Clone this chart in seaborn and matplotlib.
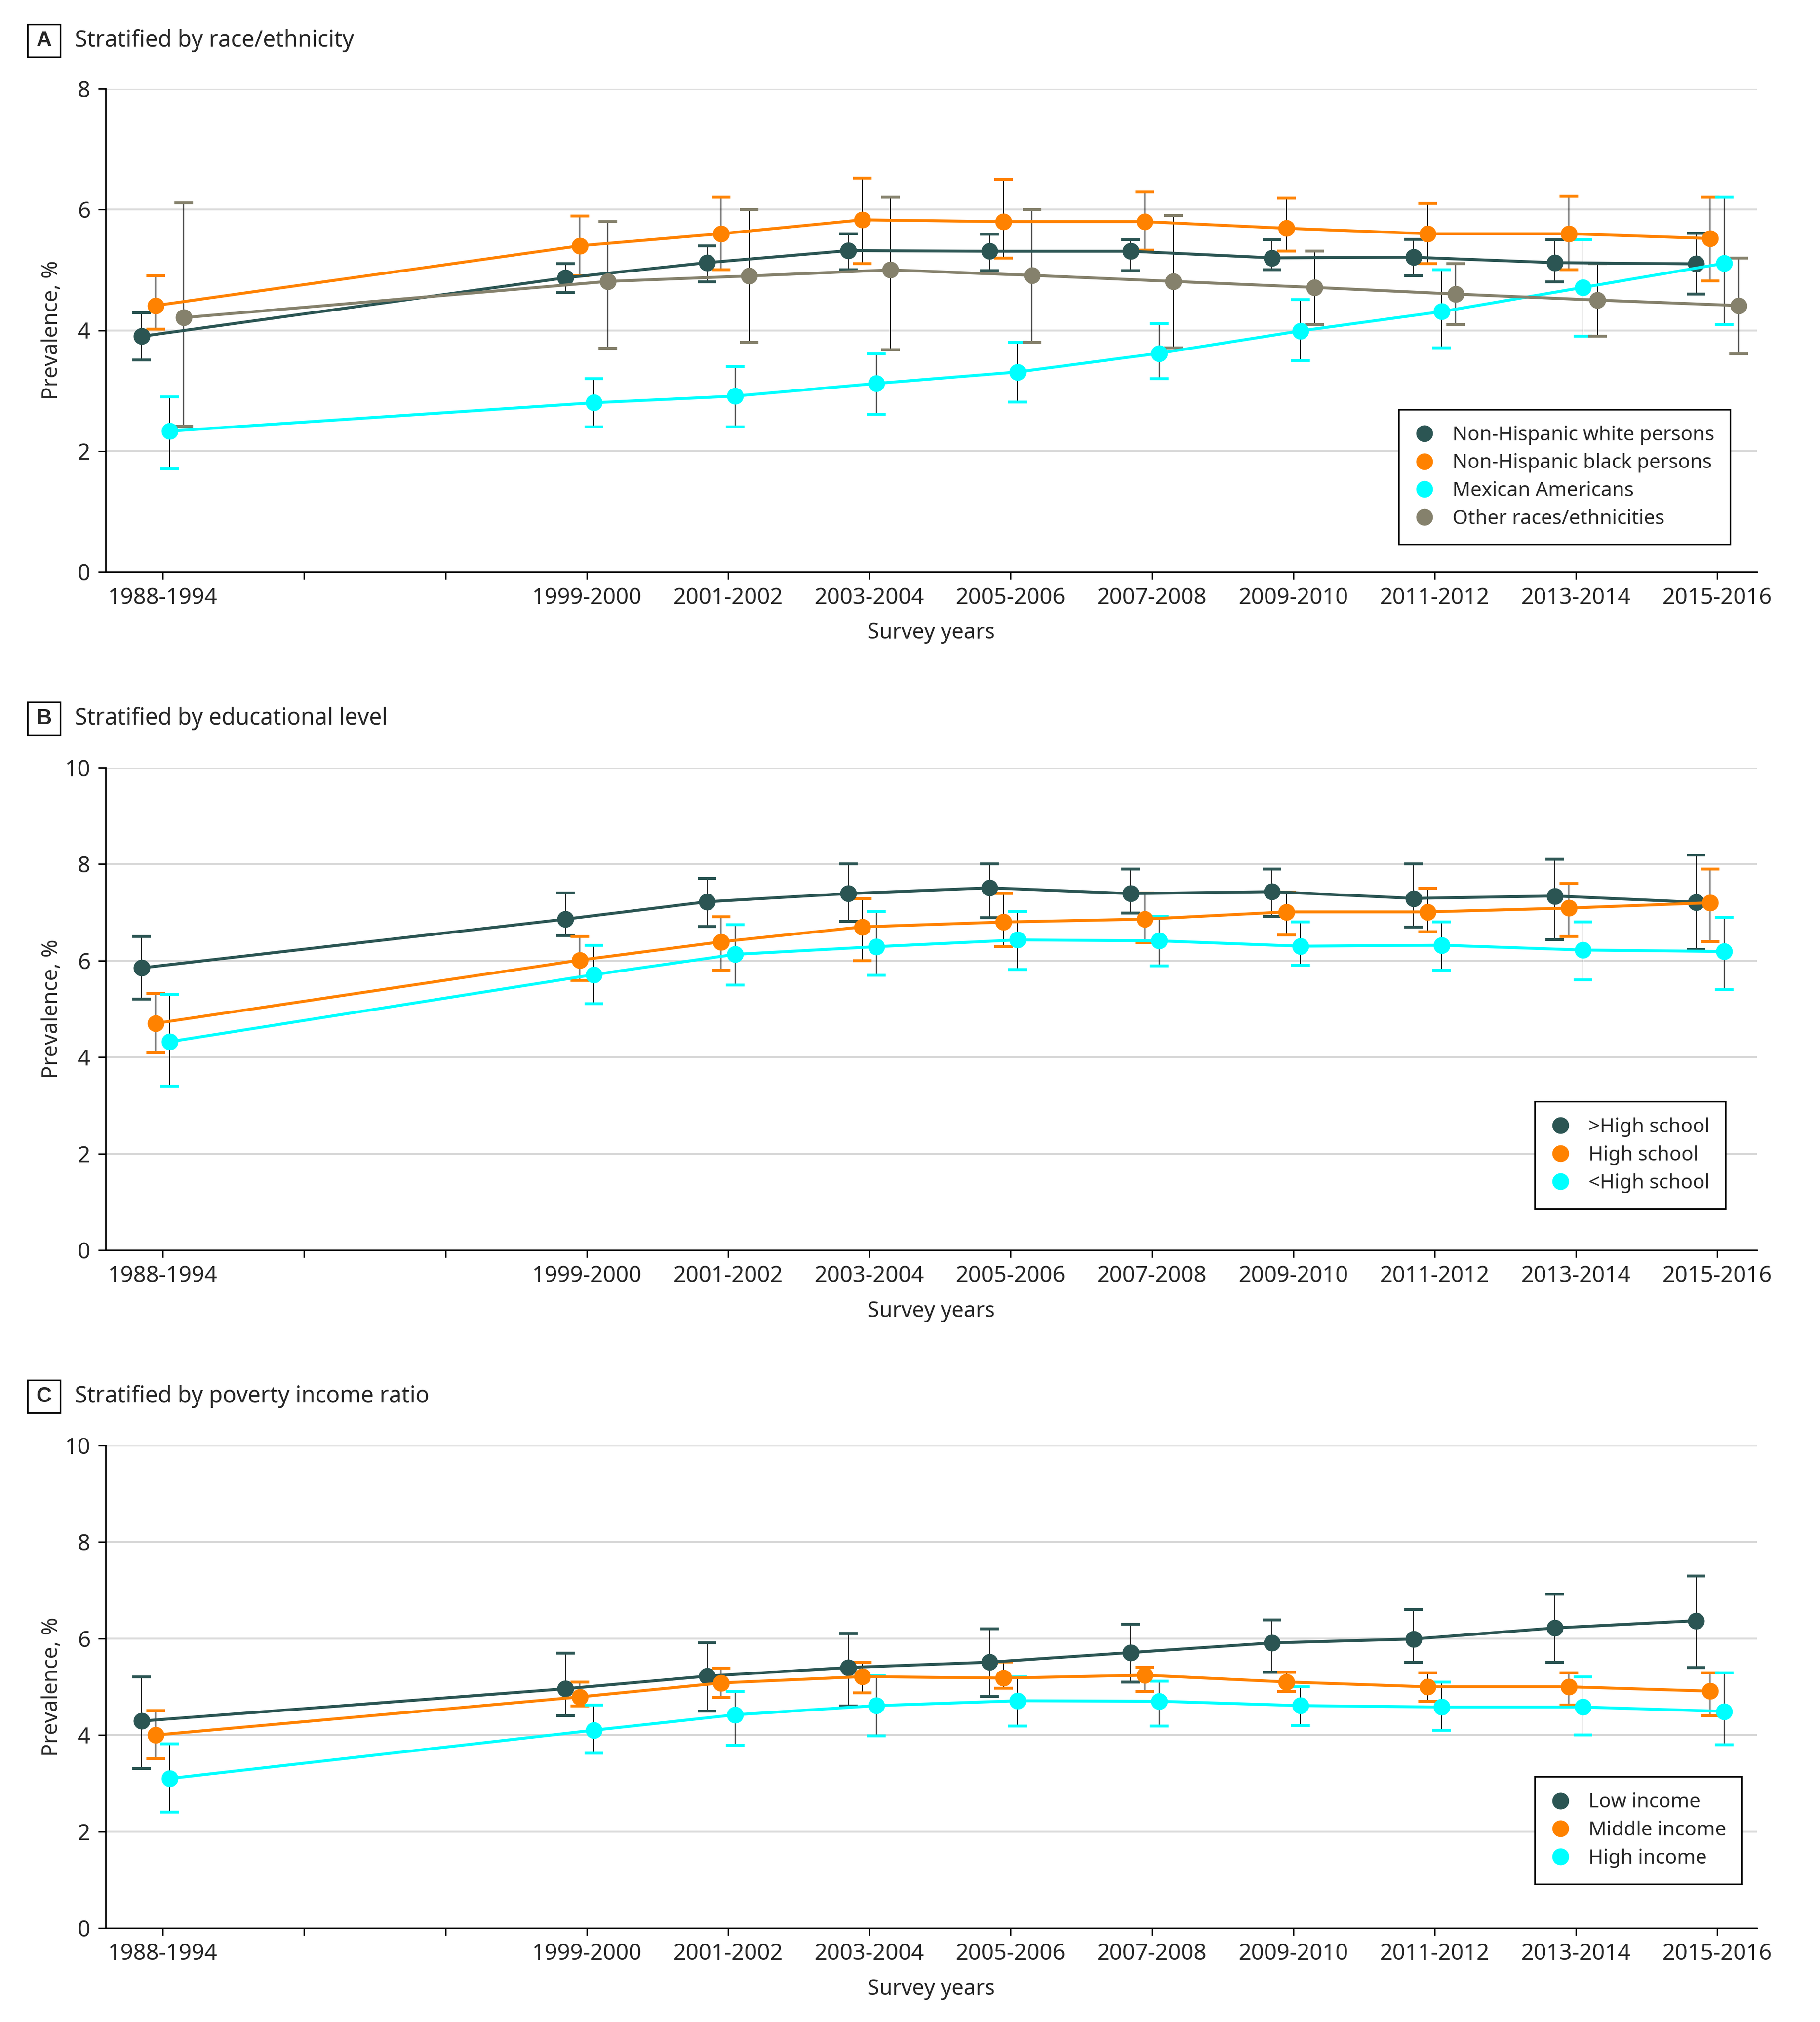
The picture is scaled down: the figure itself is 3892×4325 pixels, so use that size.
import numpy as np
import pandas as pd
import matplotlib
matplotlib.use("Agg")
import matplotlib.pyplot as plt
import seaborn as sns
from matplotlib.lines import Line2D
from matplotlib.patches import Rectangle

sns.set_style("ticks")
plt.rcParams["font.family"] = ["Noto Sans", "DejaVu Sans"]

# ---------------- data ----------------
axis_slots = ["1988-1994", "", "", "1999-2000", "2001-2002", "2003-2004", "2005-2006",
              "2007-2008", "2009-2010", "2011-2012", "2013-2014", "2015-2016"]
periods = ["1988-1994", "1999-2000", "2001-2002", "2003-2004", "2005-2006",
           "2007-2008", "2009-2010", "2011-2012", "2013-2014", "2015-2016"]

# Panel A: race/ethnicity
race_names = ["Non-Hispanic white persons", "Non-Hispanic black persons",
              "Mexican Americans", "Other races/ethnicities"]
white_est = [3.90, 4.87, 5.12, 5.32, 5.31, 5.31, 5.20, 5.21, 5.12, 5.10]
white_lo = [3.51, 4.62, 4.80, 5.00, 4.99, 4.99, 5.00, 4.90, 4.80, 4.60]
white_hi = [4.29, 5.10, 5.40, 5.60, 5.59, 5.50, 5.50, 5.51, 5.50, 5.61]
black_est = [4.41, 5.40, 5.60, 5.83, 5.80, 5.80, 5.69, 5.60, 5.60, 5.52]
black_lo = [4.02, 4.90, 5.00, 5.10, 5.20, 5.33, 5.31, 5.10, 5.00, 4.82]
black_hi = [4.90, 5.89, 6.20, 6.52, 6.50, 6.30, 6.19, 6.10, 6.22, 6.20]
mex_est = [2.33, 2.80, 2.91, 3.12, 3.31, 3.62, 3.99, 4.31, 4.71, 5.11]
mex_lo = [1.70, 2.40, 2.40, 2.61, 2.81, 3.20, 3.50, 3.71, 3.90, 4.10]
mex_hi = [2.90, 3.20, 3.40, 3.61, 3.80, 4.11, 4.51, 5.00, 5.50, 6.20]
other_est = [4.21, 4.81, 4.90, 5.00, 4.91, 4.81, 4.71, 4.60, 4.50, 4.41]
other_lo = [2.41, 3.70, 3.80, 3.68, 3.80, 3.71, 4.10, 4.10, 3.90, 3.61]
other_hi = [6.11, 5.80, 6.00, 6.20, 6.00, 5.90, 5.31, 5.10, 5.10, 5.20]

# Panel B: education
edu_names = [">High school", "High school", "<High school"]
gt_est = [5.85, 6.86, 7.22, 7.39, 7.51, 7.39, 7.43, 7.29, 7.34, 7.21]
gt_lo = [5.20, 6.52, 6.71, 6.81, 6.89, 6.99, 6.92, 6.70, 6.43, 6.23]
gt_hi = [6.50, 7.40, 7.70, 8.00, 8.00, 7.90, 7.90, 8.00, 8.10, 8.19]
hs_est = [4.70, 6.01, 6.39, 6.70, 6.80, 6.86, 7.01, 7.01, 7.09, 7.20]
hs_lo = [4.09, 5.59, 5.80, 6.00, 6.29, 6.38, 6.53, 6.60, 6.50, 6.40]
hs_hi = [5.32, 6.50, 6.91, 7.29, 7.39, 7.40, 7.42, 7.50, 7.60, 7.90]
lt_est = [4.32, 5.71, 6.13, 6.29, 6.43, 6.41, 6.30, 6.32, 6.22, 6.19]
lt_lo = [3.40, 5.11, 5.49, 5.70, 5.81, 5.89, 5.90, 5.80, 5.60, 5.40]
lt_hi = [5.30, 6.32, 6.74, 7.02, 7.02, 6.92, 6.80, 6.80, 6.80, 6.90]

# Panel C: poverty income ratio
inc_names = ["Low income", "Middle income", "High income"]
low_est = [4.29, 4.96, 5.22, 5.40, 5.51, 5.71, 5.91, 5.99, 6.22, 6.37]
low_lo = [3.30, 4.40, 4.50, 4.60, 4.80, 5.10, 5.30, 5.50, 5.50, 5.40]
low_hi = [5.20, 5.70, 5.91, 6.10, 6.20, 6.30, 6.39, 6.60, 6.92, 7.30]
mid_est = [4.00, 4.79, 5.08, 5.21, 5.18, 5.24, 5.10, 5.00, 5.00, 4.91]
mid_lo = [3.51, 4.60, 4.78, 4.87, 4.97, 4.90, 4.90, 4.70, 4.62, 4.40]
mid_hi = [4.51, 5.10, 5.39, 5.50, 5.51, 5.41, 5.30, 5.29, 5.29, 5.29]
high_est = [3.10, 4.10, 4.42, 4.61, 4.71, 4.70, 4.61, 4.58, 4.58, 4.49]
high_lo = [2.40, 3.62, 3.79, 3.98, 4.19, 4.19, 4.20, 4.10, 4.00, 3.80]
high_hi = [3.82, 4.62, 4.90, 5.23, 5.20, 5.12, 5.00, 5.10, 5.20, 5.29]

colors4 = ["#2B5553", "#FF8200", "#00FFFF", "#85816C"]

panels = [
    dict(letter="A", title="Stratified by race/ethnicity", ymax=8, names=race_names,
         est=[white_est, black_est, mex_est, other_est],
         lo=[white_lo, black_lo, mex_lo, other_lo],
         hi=[white_hi, black_hi, mex_hi, other_hi],
         legend_anchor=(0.783, 0.056)),
    dict(letter="B", title="Stratified by educational level", ymax=10, names=edu_names,
         est=[gt_est, hs_est, lt_est], lo=[gt_lo, hs_lo, lt_lo], hi=[gt_hi, hs_hi, lt_hi],
         legend_anchor=(0.8655, 0.0855)),
    dict(letter="C", title="Stratified by poverty income ratio", ymax=10, names=inc_names,
         est=[low_est, mid_est, high_est], lo=[low_lo, mid_lo, high_lo], hi=[low_hi, mid_hi, high_hi],
         legend_anchor=(0.8655, 0.091)),
]

# ---------------- layout ----------------
W, H = 3892, 4325
fig = plt.figure(figsize=(W / 300, H / 300), dpi=300)

ax_left_px, ax_right_px = 226, 3757
ax_px = [(190, 1223), (1642, 2674), (3092, 4124)]   # (top, bottom) in pixels from top
header_cy = [87, 1537, 2987]

slot_index = {p: axis_slots.index(p) for p in periods}
base_x = np.array([slot_index[p] for p in periods], dtype=float)
offsets = [-0.15, -0.05, 0.05, 0.15]

for pi, P in enumerate(panels):
    top, bot = ax_px[pi]
    ax = fig.add_axes([ax_left_px / W, 1 - bot / H, (ax_right_px - ax_left_px) / W, (bot - top) / H])
    n = len(P["names"])
    cols = colors4[:n]
    frames = []
    for i in range(n):
        est = np.array(P["est"][i])
        lo = np.array(P["lo"][i])
        hi = np.array(P["hi"][i])
        xs = base_x + offsets[i]
        res = ax.errorbar(xs, est, yerr=[est - lo, hi - est], fmt="none", ecolor="black",
                          elinewidth=0.45, capsize=4.8, capthick=1.5, zorder=2)
        for cap in res[1]:
            cap.set_markeredgecolor(cols[i])
            cap.set_markerfacecolor(cols[i])
        frames.append(pd.DataFrame({"x": xs, "y": est, "series": P["names"][i]}))
    df = pd.concat(frames, ignore_index=True)
    sns.lineplot(data=df, x="x", y="y", hue="series", hue_order=P["names"], palette=cols,
                 marker="o", markersize=8.6, markeredgewidth=0, linewidth=1.5,
                 estimator=None, legend=False, ax=ax, zorder=3)

    ax.set_xlim(-0.404, 11.28)
    ax.set_ylim(0, P["ymax"])
    ax.set_xticks(range(len(axis_slots)))
    ax.set_xticklabels(axis_slots)
    ax.set_yticks(range(0, P["ymax"] + 1, 2))
    ax.grid(axis="y", color="#d9d9d9", linewidth=1.0)
    ax.grid(axis="x", visible=False)
    ax.set_axisbelow(True)
    sns.despine(ax=ax)
    for s in ["left", "bottom"]:
        ax.spines[s].set_linewidth(0.7)
        ax.spines[s].set_color("black")
    ax.tick_params(axis="both", length=3.8, width=0.7, labelsize=11.5, pad=4, color="black")
    ax.set_xlabel("Survey years", fontsize=11)
    ax.xaxis.set_label_coords(0.5, -0.105)
    ax.set_ylabel("Prevalence, %", fontsize=11)
    ax.yaxis.set_label_coords(-0.026, 0.5)

    handles = [Line2D([], [], marker="o", ls="", color=c, markersize=8.6, markeredgewidth=0) for c in cols]
    leg = ax.legend(handles, P["names"], loc="lower left", bbox_to_anchor=P["legend_anchor"],
                    frameon=True, fancybox=False, edgecolor="black", framealpha=1, fontsize=10.2,
                    handlelength=1.0, handletextpad=0.9, borderpad=0.8, labelspacing=0.42,
                    borderaxespad=0)
    leg.get_frame().set_linewidth(0.8)

    cy = header_cy[pi]
    fig.add_artist(Rectangle(((94 - 35) / W, 1 - (cy + 35) / H), 70 / W, 70 / H,
                             transform=fig.transFigure, fill=False, edgecolor="black", linewidth=0.8))
    fig.text(94 / W, 1 - cy / H, P["letter"], ha="center", va="center", fontsize=11,
             fontweight="bold", family=["Liberation Sans", "DejaVu Sans"])
    fig.text(160 / W, 1 - cy / H, P["title"], ha="left", va="center", fontsize=11.6)

fig.savefig("out.png", dpi=300)
